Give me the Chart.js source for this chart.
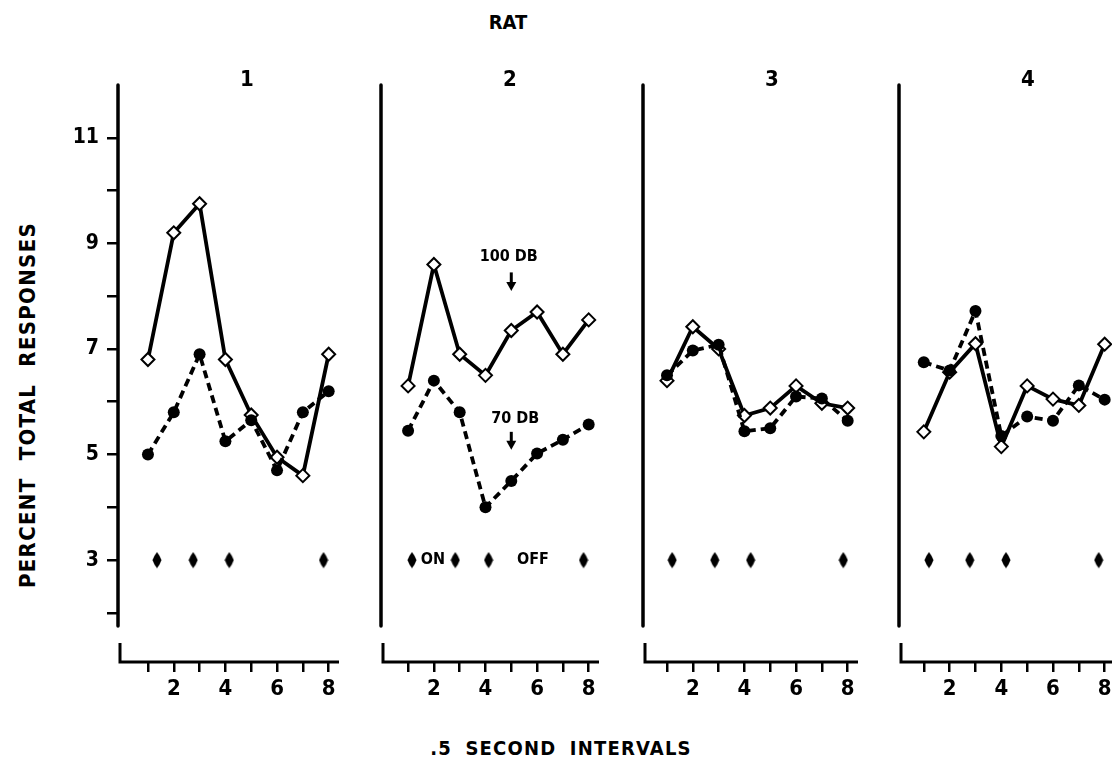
<!DOCTYPE html>
<html>
<head>
<meta charset="utf-8">
<script src="https://cdn.jsdelivr.net/npm/chart.js@4.4.1/dist/chart.umd.min.js"></script>
<style>
html, body { margin: 0; padding: 0; background: #fff; overflow: hidden; width: 1112px; height: 769px; }
body { position: relative; font-family: 'DejaVu Sans Condensed', 'Liberation Sans Narrow', sans-serif; font-weight: bold; color: #000; }
canvas { position: absolute; top: 0; }
.t { position: absolute; white-space: nowrap; transform: translate(-50%, -50%); }
</style>
</head>
<body>
<div class="t" style="left:508px;top:22px;font-size:20px">RAT</div>
<div class="t" style="left:27px;top:405px;font-size:22px;letter-spacing:1.3px;word-spacing:9px;transform:translate(-50%,-50%) rotate(-90deg)">PERCENT TOTAL RESPONSES</div>
<div class="t" style="left:561px;top:748px;font-size:20px;letter-spacing:1.2px;word-spacing:6px">.5 SECOND INTERVALS</div>

<script>
// data
const ratNames = ['1', '2', '3', '4'];
const intervals = [1, 2, 3, 4, 5, 6, 7, 8];
const xTicks = [1, 2, 3, 4, 5, 6, 7, 8];
const yTicks = [2, 3, 4, 5, 6, 7, 8, 9, 10, 11];
const yLabels = [3, 5, 7, 9, 11];

const solid1 = [6.8, 9.2, 9.75, 6.8, 5.75, 4.95, 4.6, 6.9];
const dashed1 = [5.0, 5.8, 6.9, 5.25, 5.65, 4.7, 5.8, 6.2];
const solid2 = [6.3, 8.6, 6.9, 6.5, 7.35, 7.7, 6.9, 7.55];
const dashed2 = [5.45, 6.4, 5.8, 4.0, 4.5, 5.02, 5.28, 5.57];
const solid3 = [6.4, 7.42, 7.0, 5.74, 5.88, 6.3, 5.97, 5.88];
const dashed3 = [6.5, 6.97, 7.08, 5.44, 5.5, 6.1, 6.06, 5.64];
const solid4 = [5.43, 6.56, 7.1, 5.15, 6.3, 6.05, 5.93, 7.09];
const dashed4 = [6.75, 6.59, 7.72, 5.35, 5.72, 5.64, 6.31, 6.04];

// stimulus marks on the 3% line
const stimLevel = 3;
const stim1 = [1.35, 2.75, 4.15, 7.8];
const stim2 = [1.15, 2.83, 4.12, 7.8];
const stim3 = [1.2, 2.85, 4.24, 7.83];
const stim4 = [1.2, 2.78, 4.18, 7.77];

// panel 2 notes
const noteText = ['100 DB', '70 DB', 'ON', 'OFF'];
const noteX = [4.9, 5.15, 1.96, 5.84];
const noteY = [8.75, 5.67, 3, 3];
const arrowX = [5, 5];
const arrowTop = [8.45, 5.43];
const arrowBottom = [8.1, 5.09];

const panels = [
  { solid: solid1, dashed: dashed1, stim: stim1 },
  { solid: solid2, dashed: dashed2, stim: stim2, notes: true },
  { solid: solid3, dashed: dashed3, stim: stim3 },
  { solid: solid4, dashed: dashed4, stim: stim4 },
];

// layout
const axisLeft = [118, 381, 643, 899];
const xMin = [-0.16, -0.05, 0.07, 0.04];
const xMax = 8.4;
const pxPerX = 25.8;
const yMin = 1.07, yMax = 12;
const yAxisBottom = 1.75, stubTop = 1.43;
const FONT = "'DejaVu Sans Condensed', 'Liberation Sans Narrow', sans-serif";

// lozenge marker
const loz = document.createElement('canvas');
loz.width = 10; loz.height = 17;
(function () {
  const c = loz.getContext('2d');
  c.fillStyle = '#000';
  c.beginPath();
  c.moveTo(5, 0.5);
  c.quadraticCurveTo(8, 4, 9.5, 8.5);
  c.quadraticCurveTo(8, 13, 5, 16.5);
  c.quadraticCurveTo(2, 13, 0.5, 8.5);
  c.quadraticCurveTo(2, 4, 5, 0.5);
  c.fill();
})();

const axisLines = {
  id: 'axisLines',
  afterDraw(chart, args, opts) {
    const { ctx, chartArea: a, scales: { x, y } } = chart;
    ctx.save();
    ctx.strokeStyle = '#000';
    ctx.lineCap = 'round';
    ctx.lineWidth = 3.5;
    ctx.beginPath();
    ctx.moveTo(a.left, y.getPixelForValue(yMax));
    ctx.lineTo(a.left, y.getPixelForValue(yAxisBottom));
    ctx.stroke();
    ctx.lineWidth = 3;
    ctx.lineCap = 'butt';
    ctx.beginPath();
    ctx.moveTo(a.left + 2, y.getPixelForValue(stubTop));
    ctx.lineTo(a.left + 2, a.bottom);
    ctx.lineTo(a.right, a.bottom);
    ctx.stroke();

    if (opts.notes) {
      ctx.fillStyle = '#000';
      ctx.font = 'bold 16px ' + FONT;
      ctx.textAlign = 'center';
      ctx.textBaseline = 'middle';
      noteText.forEach((t, i) => {
        ctx.fillText(t, x.getPixelForValue(noteX[i]), y.getPixelForValue(noteY[i]));
      });
      arrowX.forEach((ax, i) => {
        const px = x.getPixelForValue(ax);
        const top = y.getPixelForValue(arrowTop[i]);
        const bot = y.getPixelForValue(arrowBottom[i]);
        ctx.lineWidth = 3;
        ctx.beginPath();
        ctx.moveTo(px, top);
        ctx.lineTo(px, bot - 5);
        ctx.stroke();
        ctx.beginPath();
        ctx.moveTo(px - 5, bot - 9);
        ctx.lineTo(px + 5, bot - 9);
        ctx.lineTo(px, bot);
        ctx.closePath();
        ctx.fill();
      });
    }
    ctx.restore();
  }
};

panels.forEach((p, i) => {
  const cv = document.createElement('canvas');
  const w = Math.round(45 + (xMax - xMin[i]) * pxPerX);
  cv.width = w; cv.height = 769;
  cv.style.left = (axisLeft[i] - 45) + 'px';
  cv.style.width = w + 'px'; cv.style.height = '769px';
  document.body.appendChild(cv);

  const title = document.createElement('div');
  title.className = 't';
  title.style.cssText = 'left:' + (axisLeft[i] + 129) + 'px;top:78px;font-size:22px';
  title.textContent = ratNames[i];
  document.body.appendChild(title);

  const first = i === 0;
  new Chart(cv, {
    type: 'line',
    data: {
      datasets: [
        {
          label: 'stimulus',
          data: p.stim.map(v => ({ x: v, y: stimLevel })),
          showLine: false,
          pointStyle: loz,
          pointRadius: 8,
          clip: false
        },
        {
          label: '70 DB',
          data: intervals.map((v, k) => ({ x: v, y: p.dashed[k] })),
          borderColor: '#000',
          borderWidth: 3.8,
          borderDash: [8, 5],
          tension: 0,
          pointStyle: 'circle',
          pointRadius: 6,
          pointBackgroundColor: '#000',
          pointBorderColor: '#000',
          pointBorderWidth: 0,
          clip: false
        },
        {
          label: '100 DB',
          data: intervals.map((v, k) => ({ x: v, y: p.solid[k] })),
          borderColor: '#000',
          borderWidth: 3.8,
          tension: 0,
          pointStyle: 'rectRot',
          pointRadius: 6.5,
          pointBackgroundColor: '#fff',
          pointBorderColor: '#000',
          pointBorderWidth: 2,
          clip: false
        }
      ]
    },
    options: {
      responsive: false,
      animation: false,
      layout: { autoPadding: false, padding: { top: 85, left: 0, right: 0, bottom: 0 } },
      plugins: {
        legend: { display: false },
        tooltip: { enabled: false },
        axisLines: { notes: !!p.notes }
      },
      scales: {
        x: {
          type: 'linear',
          min: xMin[i],
          max: xMax,
          afterBuildTicks: s => { s.ticks = xTicks.map(v => ({ value: v })); },
          afterFit: s => { s.height = 107; s.paddingLeft = 0; s.paddingRight = 0; },
          border: { display: false },
          grid: { display: true, drawOnChartArea: false, drawTicks: true, tickLength: 10, color: '#000', lineWidth: 2.5 },
          ticks: {
            autoSkip: false, maxRotation: 0, minRotation: 0, padding: 4,
            color: '#000',
            font: { family: FONT, size: 22, weight: 'bold' },
            callback: v => (v % 2 === 0 ? String(v) : '')
          }
        },
        y: {
          min: yMin,
          max: yMax,
          afterBuildTicks: s => { s.ticks = yTicks.map(v => ({ value: v })); },
          afterFit: s => { s.width = 45; s.paddingTop = 0; s.paddingBottom = 0; },
          border: { display: false },
          grid: { display: first, drawOnChartArea: false, drawTicks: true, tickLength: 11, color: '#000', lineWidth: 2.5 },
          ticks: {
            display: first,
            autoSkip: false, padding: 8,
            color: '#000',
            font: { family: FONT, size: 21, weight: 'bold' },
            callback: v => (yLabels.includes(v) ? String(v) : '')
          }
        }
      }
    },
    plugins: [axisLines]
  });
});
</script>
</body>
</html>
